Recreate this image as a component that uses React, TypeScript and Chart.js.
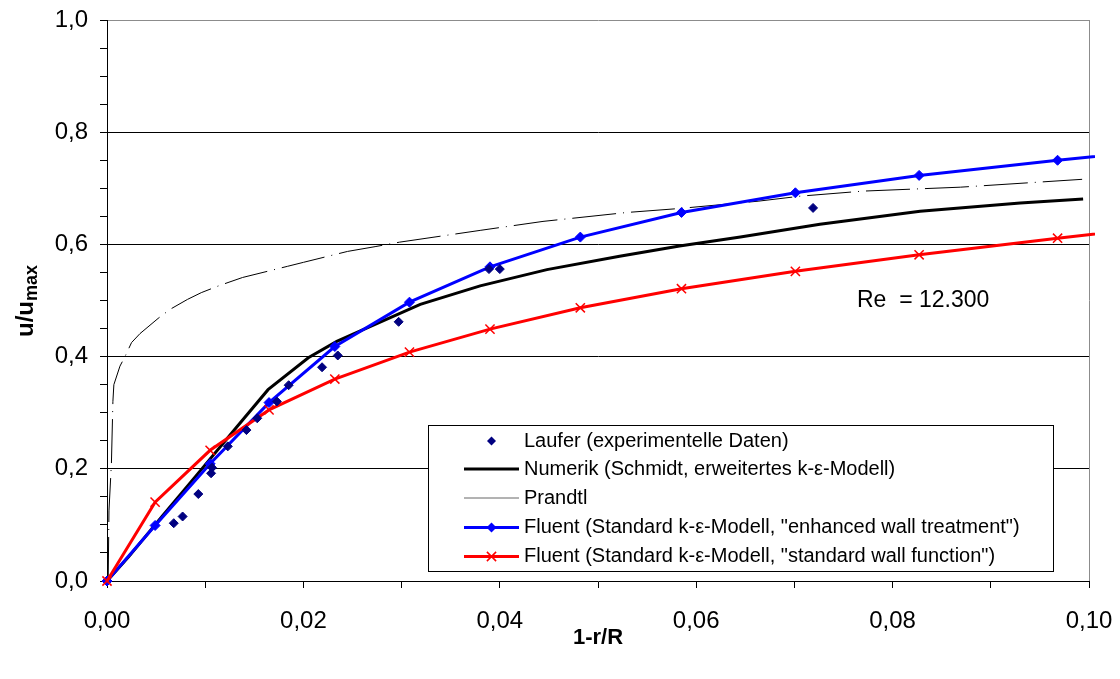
import React, { useEffect, useRef } from 'react';
import { Chart, registerables } from 'chart.js';

Chart.register(...registerables);

const FONT = '"Liberation Sans", Arial, Helvetica, sans-serif';

// Tick labels
const xTickLabels = ['0,00', '0,02', '0,04', '0,06', '0,08', '0,10'];
const yTickLabels = ['0,0', '0,2', '0,4', '0,6', '0,8', '1,0'];

// Series names
const seriesNames = [
  'Laufer (experimentelle Daten)',
  'Numerik (Schmidt, erweitertes k-ε-Modell)',
  'Prandtl',
  'Fluent (Standard k-ε-Modell, "enhanced wall treatment")',
  'Fluent (Standard k-ε-Modell, "standard wall function")',
];

// Laufer (experimental data)
const lauferX = [0.0068, 0.0077, 0.0093, 0.0106, 0.0107, 0.0123, 0.0142, 0.0153, 0.0173, 0.0185, 0.0219, 0.0235, 0.0297, 0.0389, 0.04, 0.0719];
const lauferY = [0.103, 0.115, 0.155, 0.192, 0.202, 0.24, 0.269, 0.29, 0.32, 0.349, 0.381, 0.402, 0.462, 0.556, 0.556, 0.665];

// Numerik (Schmidt)
const numerikX = [0, 0.0022, 0.0056, 0.009, 0.013, 0.0164, 0.0205, 0.0234, 0.0258, 0.0319, 0.038, 0.0448, 0.0522, 0.0583, 0.0645, 0.0726, 0.0828, 0.093, 0.0994];
const numerikY = [0, 0.043, 0.115, 0.186, 0.27, 0.341, 0.398, 0.427, 0.446, 0.493, 0.526, 0.555, 0.579, 0.597, 0.613, 0.636, 0.659, 0.674, 0.681];

// Prandtl
const prandtlX = [0.00012, 0.0002, 0.00045, 0.0006, 0.0007, 0.00132, 0.00183, 0.0025, 0.00336, 0.0052, 0.0064, 0.0082, 0.0096, 0.0115, 0.0138, 0.0184, 0.02, 0.0245, 0.0273, 0.0298, 0.038, 0.0444, 0.053, 0.0583, 0.0663, 0.0706, 0.077, 0.0869, 0.0993];
const prandtlY = [0, 0.125, 0.21, 0.32, 0.35, 0.383, 0.4, 0.425, 0.441, 0.468, 0.484, 0.502, 0.514, 0.527, 0.541, 0.561, 0.568, 0.5875, 0.596, 0.604, 0.625, 0.641, 0.657, 0.664, 0.677, 0.686, 0.695, 0.702, 0.716];

// Fluent (both runs use the same radial positions)
const fluentX = [0, 0.0049, 0.0105, 0.0165, 0.0232, 0.0308, 0.039, 0.0482, 0.0585, 0.0701, 0.0827, 0.0968, 0.112];
const enhancedY = [0, 0.099, 0.209, 0.318, 0.418, 0.497, 0.56, 0.613, 0.657, 0.692, 0.723, 0.75, 0.777];
const standardY = [0, 0.1405, 0.233, 0.305, 0.36, 0.408, 0.449, 0.487, 0.521, 0.552, 0.5815, 0.611, 0.641];

const reynoldsText = 'Re  = 12.300';

const pts = (xs: number[], ys: number[]) => xs.map((x, i) => ({ x, y: ys[i] }));

function drawDiamond(ctx: CanvasRenderingContext2D, x: number, y: number, r: number, color: string) {
  ctx.beginPath();
  ctx.moveTo(x - r, y);
  ctx.lineTo(x, y - r);
  ctx.lineTo(x + r, y);
  ctx.lineTo(x, y + r);
  ctx.closePath();
  ctx.fillStyle = color;
  ctx.fill();
}

function drawCross(ctx: CanvasRenderingContext2D, x: number, y: number, r: number, color: string) {
  ctx.beginPath();
  ctx.moveTo(x - r, y - r);
  ctx.lineTo(x + r, y + r);
  ctx.moveTo(x + r, y - r);
  ctx.lineTo(x - r, y + r);
  ctx.strokeStyle = color;
  ctx.lineWidth = 1.5;
  ctx.stroke();
}

export default function App() {
  const ref = useRef<HTMLCanvasElement>(null);

  useEffect(() => {
    document.body.style.margin = '0';
    const canvas = ref.current!;

    const overlay = {
      id: 'overlay',
      afterDatasetsDraw(chart: any) {
        const ctx: CanvasRenderingContext2D = chart.ctx;
        ctx.save();
        // Reynolds label
        ctx.fillStyle = '#000';
        ctx.font = `23px ${FONT}`;
        ctx.textAlign = 'left';
        ctx.textBaseline = 'middle';
        ctx.fillText(reynoldsText, 857, 301);

        // Legend box
        const bx = 428, by = 425, bw = 625, bh = 146;
        ctx.fillStyle = '#fff';
        ctx.fillRect(bx, by, bw, bh);
        ctx.strokeStyle = '#000';
        ctx.lineWidth = 1;
        ctx.strokeRect(bx + 0.5, by + 0.5, bw, bh);

        const rows = [441, 469, 498, 527.5, 556.5];
        const x0 = 464, x1 = 519, xm = 491.5, tx = 524;
        ctx.font = `20px ${FONT}`;
        ctx.textBaseline = 'middle';
        rows.forEach((ry, i) => {
          const ds = chart.data.datasets[i];
          if (i === 0) {
            drawDiamond(ctx, xm, ry, 4.5, ds.backgroundColor);
          } else {
            ctx.beginPath();
            ctx.moveTo(x0, ry);
            ctx.lineTo(x1, ry);
            ctx.strokeStyle = i === 2 ? '#666' : ds.borderColor;
            ctx.lineWidth = ds.borderWidth;
            ctx.stroke();
            if (i === 3) drawDiamond(ctx, xm, ry, 5, ds.backgroundColor);
            if (i === 4) drawCross(ctx, xm, ry, 4.6, ds.borderColor);
          }
          ctx.fillStyle = '#000';
          ctx.fillText(seriesNames[i], tx, ry);
        });
        ctx.restore();
      },
      afterDraw(chart: any) {
        const ctx: CanvasRenderingContext2D = chart.ctx;
        const area = chart.chartArea;
        ctx.save();
        ctx.fillStyle = '#000';
        // x title
        ctx.font = `bold 22px ${FONT}`;
        ctx.textAlign = 'center';
        ctx.textBaseline = 'middle';
        ctx.fillText('1-r/R', (area.left + area.right) / 2, 638);
        // y title with subscript
        ctx.translate(33, 301);
        ctx.rotate(-Math.PI / 2);
        ctx.textAlign = 'left';
        ctx.textBaseline = 'alphabetic';
        const mainFont = `bold 24px ${FONT}`;
        const subFont = `bold 18px ${FONT}`;
        ctx.font = mainFont;
        const w1 = ctx.measureText('u/u').width;
        ctx.font = subFont;
        const w2 = ctx.measureText('max').width;
        const start = -(w1 + w2) / 2;
        ctx.font = mainFont;
        ctx.fillText('u/u', start, 0);
        ctx.font = subFont;
        ctx.fillText('max', start + w1, 4);
        ctx.restore();
      },
    };

    const near = (a: number, b: number) => Math.abs(a - b) < 1e-6;
    const wideClip = { left: 12, top: 12, right: 6, bottom: 12 };

    const chart = new Chart(canvas, {
      type: 'scatter',
      data: {
        datasets: [
          {
            label: seriesNames[0],
            data: pts(lauferX, lauferY),
            showLine: false,
            pointStyle: 'rectRot',
            pointRadius: 4.5,
            borderWidth: 1,
            backgroundColor: '#000080',
            borderColor: '#000080',
            order: 0,
            clip: wideClip,
          },
          {
            label: seriesNames[1],
            data: pts(numerikX, numerikY),
            showLine: true,
            pointRadius: 0,
            borderColor: '#000000',
            backgroundColor: '#000000',
            borderWidth: 3,
            order: 3,
            clip: wideClip,
          },
          {
            label: seriesNames[2],
            data: pts(prandtlX, prandtlY),
            showLine: true,
            pointRadius: 0,
            borderColor: '#000000',
            backgroundColor: '#000000',
            borderWidth: 1,
            borderDash: [44, 7, 1, 7],
            order: 4,
            clip: wideClip,
          },
          {
            label: seriesNames[3],
            data: pts(fluentX, enhancedY),
            showLine: true,
            pointStyle: 'rectRot',
            pointRadius: 5,
            pointBorderWidth: 1,
            borderColor: '#0000FF',
            backgroundColor: '#0000FF',
            borderWidth: 3,
            order: 2,
            clip: wideClip,
          },
          {
            label: seriesNames[4],
            data: pts(fluentX, standardY),
            showLine: true,
            pointStyle: 'crossRot',
            pointRadius: 6.5,
            pointBorderWidth: 1.5,
            borderColor: '#FF0000',
            backgroundColor: '#FF0000',
            borderWidth: 3,
            order: 1,
            clip: wideClip,
          },
        ],
      } as any,
      options: {
        responsive: false,
        animation: false,
        devicePixelRatio: 1,
        layout: { padding: { left: 0, right: 31, top: 20, bottom: 0 } },
        plugins: {
          legend: { display: false },
          tooltip: { enabled: false },
        },
        elements: { line: { tension: 0 } },
        scales: {
          x: {
            type: 'linear',
            min: 0,
            max: 0.1,
            afterFit: (s: any) => {
              s.height = 98;
              s.paddingLeft = 0;
              s.paddingRight = 0;
            },
            border: { color: '#000', width: 1 },
            grid: {
              drawOnChartArea: true,
              drawTicks: true,
              tickLength: 7,
              tickColor: '#000',
              color: (c: any) => (c.tick && near(c.tick.value, 0.1) ? '#8c8c8c' : 'rgba(0,0,0,0)'),
              lineWidth: 1,
            },
            ticks: {
              stepSize: 0.01,
              autoSkip: false,
              maxRotation: 0,
              padding: 19,
              color: '#000',
              font: { family: FONT, size: 24 },
              callback: (v: any) => {
                const k = Math.round(Number(v) * 100);
                return k % 2 === 0 ? xTickLabels[k / 2] : '';
              },
            },
          },
          y: {
            type: 'linear',
            min: 0,
            max: 1,
            afterFit: (s: any) => {
              s.width = 107;
              s.paddingTop = 0;
              s.paddingBottom = 0;
            },
            border: { color: '#000', width: 1 },
            grid: {
              drawOnChartArea: true,
              drawTicks: true,
              tickLength: 7,
              tickColor: '#000',
              color: (c: any) => {
                if (!c.tick) return 'rgba(0,0,0,0)';
                const k = Math.round(c.tick.value * 100);
                if (k === 100) return '#8c8c8c';
                if (k > 0 && k % 20 === 0) return '#000';
                return 'rgba(0,0,0,0)';
              },
              lineWidth: 1,
            },
            ticks: {
              stepSize: 0.05,
              autoSkip: false,
              padding: 12,
              color: '#000',
              font: { family: FONT, size: 24 },
              callback: (v: any) => {
                const k = Math.round(Number(v) * 100);
                return k % 20 === 0 ? yTickLabels[k / 20] : '';
              },
            },
          },
        },
      } as any,
      plugins: [overlay],
    });

    return () => chart.destroy();
  }, []);

  return <canvas ref={ref} width={1120} height={679} style={{ display: 'block' }} />;
}
